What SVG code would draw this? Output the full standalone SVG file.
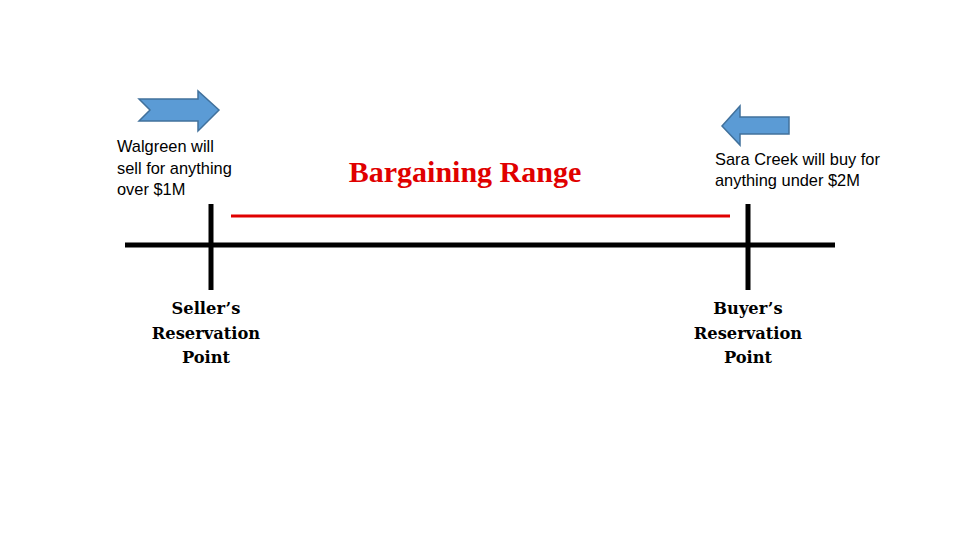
<svg xmlns="http://www.w3.org/2000/svg" width="960" height="540" viewBox="0 0 960 540">
<style>
.note{font-family:"Liberation Sans",Arial,sans-serif;font-size:16.4px;fill:#000}
.lbl{font-family:"DejaVu Serif","Liberation Serif",serif;font-weight:bold;font-size:16.3px;fill:#000;text-anchor:middle}
.arrow{fill:#5B9BD5;stroke:#41719C;stroke-width:1.5}
.axis{stroke:#000;stroke-width:5}
</style>
<rect width="960" height="540" fill="#fff"/>
<g id="connectors">
<line class="axis" x1="125" y1="245" x2="835" y2="245"/>
<line class="axis" x1="211" y1="204" x2="211" y2="290"/>
<line class="axis" x1="748" y1="204" x2="748" y2="290"/>
<line x1="231" y1="216" x2="730" y2="216" stroke="#E00000" stroke-width="3"/>
</g>
<g id="seller-arrow"><polygon class="arrow" points="139,99 198,99 198,91 219,110 198,131 198,121 139,121 150,110"/></g>
<g id="buyer-arrow"><polygon class="arrow" points="722,126 740,106 740,117 789,117 789,134 740,134 740,145"/></g>
<g id="walgreen"><text class="note" x="117" y="152">Walgreen will</text><text class="note" x="117" y="174">sell for anything</text><text class="note" x="117" y="195">over $1M</text></g>
<g id="saracreek"><text class="note" x="715" y="165">Sara Creek will buy for</text><text class="note" x="715" y="186">anything under $2M</text></g>
<g id="range"><text x="465" y="182" text-anchor="middle" font-family="Liberation Serif,serif" font-weight="bold" font-size="30" fill="#E00000">Bargaining Range</text></g>
<g id="seller"><text class="lbl" x="206" y="314">Seller’s</text><text class="lbl" x="206" y="339">Reservation</text><text class="lbl" x="206" y="363">Point</text></g>
<g id="buyer"><text class="lbl" x="748" y="314">Buyer’s</text><text class="lbl" x="748" y="339">Reservation</text><text class="lbl" x="748" y="363">Point</text></g>
</svg>
